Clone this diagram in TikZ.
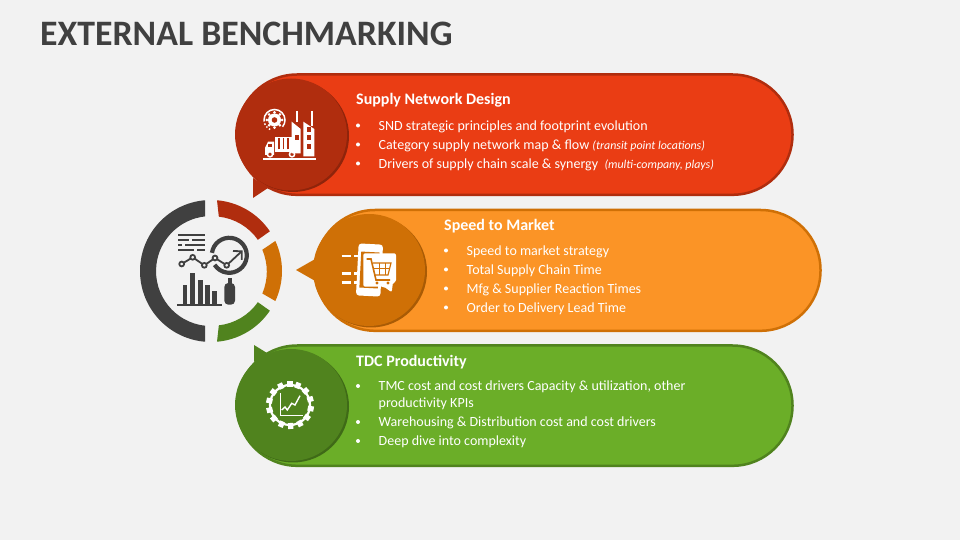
\documentclass[tikz,border=0pt]{standalone}
\usepackage{fontspec}
\setmainfont{Carlito}
\definecolor{paper}{HTML}{F2F2F2}
\definecolor{ink}{HTML}{404040}
\definecolor{redfill}{HTML}{EA3D14}
\definecolor{reddark}{HTML}{B02D0E}
\definecolor{redshade}{HTML}{8F240B}
\definecolor{orangefill}{HTML}{FB9426}
\definecolor{orangedark}{HTML}{CF7006}
\definecolor{orangeshade}{HTML}{A95B05}
\definecolor{greenfill}{HTML}{6BAE28}
\definecolor{greendark}{HTML}{50831E}
\definecolor{greenshade}{HTML}{3F6A17}
\tikzset{
	pill/.style={line width=2.5pt, rounded corners=60pt},
	headtext/.style={anchor=base west, inner sep=0pt, text=white, font=\fontsize{16}{18}\selectfont\bfseries},
	itemtext/.style={anchor=base west, inner sep=0pt, text=white, font=\fontsize{14}{16}\selectfont},
	iconline/.style={white, line width=1.5pt},
	inkline/.style={ink, line width=1.8pt}
}
\newcommand{\smallnote}[1]{{\fontsize{11.9}{13}\selectfont\itshape #1}}
\begin{document}
\begin{tikzpicture}[x=1pt,y=1pt]
	\useasboundingbox (0,0) rectangle (960,540);
	\fill [paper] (0,0) rectangle (960,540);
	\node [anchor=base west, inner sep=0pt, text=ink, font=\fontsize{35.8}{40}\selectfont\bfseries] (title) at (40,494) {EXTERNAL BENCHMARKING};
	% ring
	\fill [ink] (211,269)++(94.85:71) arc (94.85:265.15:71) -- ++(0,16) arc (263.7:96.3:55) -- cycle;
	\fill [reddark] (211,269)++(85.15:71) arc (85.15:34:71) -- ++(-12,-8.5) arc (35:83.7:55) -- cycle;
	\fill [orangedark] (211,269)++(25:71) arc (25:-25:71) -- ++(-13,7.5) arc (-23:23:56) -- cycle;
	\fill [greendark] (211,269)++(-85.15:71) arc (-85.15:-34:71) -- ++(-12,8.5) arc (-35:-83.7:55) -- cycle;
	% middle icon
	\draw [inkline] (178,305)--(205,305);
	\draw [inkline] (178,300)--(189,300) (192,300)--(205,300);
	\draw [inkline] (178,295)--(182,295) (185,295)--(205,295);
	\draw [inkline] (178,290)--(194,290) (197,290)--(205,290);
	\draw [ink, line width=4.2pt] (229.3,284.7)++(172:17.5) arc (172:-147:17.5);
	\draw [inkline] (181.7,276)--(192.7,282.7)--(204.3,274.7)--(215,282)--(226.7,274.7)--(241.7,288.7);
	\draw [inkline] (233,289)--(241.7,288.7)--(241.7,280);
	\foreach \px/\py in {181.7/276, 192.7/282.7, 204.3/274.7, 215/282, 226.7/274.7}
		\draw [inkline, fill=paper] (\px,\py) circle (2.4);
	\fill [ink] (182.7,234.7) rectangle (187.3,254.7);
	\fill [ink] (190,234.7) rectangle (195.3,267);
	\fill [ink] (198,234.7) rectangle (202.7,260.3);
	\fill [ink] (205,234.7) rectangle (210,254.7);
	\fill [ink] (212.3,234.7) rectangle (217,248.7);
	\draw [inkline] (177.3,234.7)--(221.7,234.7);
	\fill [ink, rounded corners=4pt] (224.3,235.3) rectangle (235,257);
	\fill [ink] (227.5,256) rectangle (231.7,262);
	% supply network design
	\draw [pill, draw=reddark, fill=redfill] (237.2,345.2) rectangle (792.5,465.5);
	\fill [redshade] (293,404) circle (56);
	\fill [reddark] (253,342)--(253,362)--(268,352)--cycle;
	\fill [reddark] (291,405.5) circle (56);
	\draw [iconline] (263.3,381)--(316,381);
	\draw [iconline] (264,420) arc (180:-40:10.5);
	\draw [iconline, dash pattern=on 1.5pt off 2pt] (264,420) arc (180:250:10.5);
	\fill [white] (274.5,420) circle (6.5);
	\fill [reddark] (274.5,420) circle (2.8);
	\foreach \ang in {0,45,...,315}
		\fill [white] (274.5,420)++(\ang:7.6) circle (1.5);
	\fill [white] (275,388.3) rectangle (298.3,403.3);
	\foreach \px in {279,283.5,288,292.5}
		\draw [reddark, line width=1.1pt] (\px,390.5)--(\px,401.5);
	\fill [white] (265,385)--(265,392)--(268,398.3)--(274,398.3)--(274,385)--cycle;
	\fill [reddark] (267.5,392.5) rectangle (272,396);
	\draw [iconline, fill=reddark] (270,385.7) circle (2.6);
	\draw [iconline, fill=reddark] (292,385.7) circle (2.6);
	\fill [white] (291.7,386.7)--(291.7,418.3)--(300.7,411)--(300.7,386.7)--cycle;
	\fill [white] (303.3,383.5)--(303.3,418.3)--(314.3,411)--(314.3,383.5)--cycle;
	\draw [white, line width=2pt] (296.7,429)--(296.7,418);
	\draw [white, line width=2pt] (311.7,429)--(311.7,414);
	\fill [reddark] (294.5,400) rectangle (298.5,405);
	\fill [reddark] (306.8,400) rectangle (310.8,405);
	\fill [reddark] (306.8,391) rectangle (310.8,396);
	\fill [reddark] (306.8,408) rectangle (310.8,413);
	\node [headtext] (ndhead) at (356,435.2) {Supply Network Design};
	\fill [white] (358,414.5) circle (2);
	\fill [white] (358,395.5) circle (2);
	\fill [white] (358,376.5) circle (2);
	\node [itemtext] (ndone) at (378.5,409.7) {SND strategic principles and footprint evolution};
	\node [itemtext] (ndtwo) at (378.5,390.2) {Category supply network map \& flow \smallnote{(transit point locations)}};
	\node [itemtext] (ndthree) at (378.5,371.4) {Drivers of supply chain scale \& synergy \ \smallnote{(multi-company, plays)}};
	% speed to market
	\draw [pill, draw=orangedark, fill=orangefill] (315.2,209.2) rectangle (820.5,330);
	\fill [orangeshade] (371,268.5) circle (56);
	\fill [orangedark] (296,270)--(317,282)--(317,258)--cycle;
	\fill [orangedark] (369,270) circle (56);
	\draw [white, line width=2.6pt] (341.7,284)--(351,284) (354,284)--(358,284);
	\draw [white, line width=2.6pt] (341.7,266.7)--(351,266.7) (354,266.7)--(358,266.7);
	\draw [white, line width=2.6pt] (341.7,257.7)--(351,257.7) (354,257.7)--(358,257.7);
	\fill [white, rounded corners=3pt, rotate around={-3:(369,270)}] (357.3,244) rectangle (381.7,296);
	\fill [orangedark, rotate around={-3:(369,270)}] (360.3,252) rectangle (378.7,288);
	\fill [white, rounded corners=2pt] (363.3,253.3)--(363.3,286.7)--(396,286.7)--(396,258)--(393,258)--(391.7,247.7)--(384,253.3)--cycle;
	\draw [orangedark, line width=1.6pt] (366.5,281)--(371,281)--(376,260)--(390,260);
	\draw [orangedark, line width=1.2pt] (373,277)--(391,277)--(388,265)--(374.5,265);
	\draw [orangedark, line width=1pt] (373,271)--(390,271) (379,277)--(379,265) (385,277)--(385,265);
	\fill [orangedark] (377,257) circle (1.7);
	\fill [orangedark] (388,257) circle (1.7);
	\node [headtext] (smhead) at (444,309.7) {Speed to Market};
	\fill [white] (446,289.5) circle (2);
	\fill [white] (446,270.5) circle (2);
	\fill [white] (446,251.5) circle (2);
	\fill [white] (446,232.5) circle (2);
	\node [itemtext] (smone) at (466.5,284.7) {Speed to market strategy};
	\node [itemtext] (smtwo) at (466.5,265.7) {Total Supply Chain Time};
	\node [itemtext] (smthree) at (466.5,246.7) {Mfg \& Supplier Reaction Times};
	\node [itemtext] (smfour) at (466.5,227.7) {Order to Delivery Lead Time};
	% tdc productivity
	\draw [pill, draw=greendark, fill=greenfill] (237.2,74.2) rectangle (792.5,194.5);
	\fill [greenshade] (293,133.5) circle (56);
	\fill [greendark] (254,195)--(267,187)--(254,178)--cycle;
	\fill [greendark] (291,135) circle (56);
	\draw [white, line width=2.2pt] (290,135) circle (20);
	\foreach \ang in {0,26,...,340}
		\fill [white, rotate around={\ang:(290,135)}] (287.4,153) rectangle (292.6,159);
	\draw [white, line width=1pt] (280,146.7)--(280,124.3)--(303.3,124.3);
	\draw [white, line width=1.4pt] (281.7,130)--(285,133)--(287.3,130)--(291.7,136.7)--(295,135)--(300,144.3);
	\node [headtext] (tdchead) at (356,173.2) {TDC Productivity};
	\fill [white] (358,154) circle (2);
	\fill [white] (358,118) circle (2);
	\fill [white] (358,99) circle (2);
	\node [itemtext] (tdcone) at (378.5,149.2) {TMC cost and cost drivers Capacity \& utilization, other};
	\node [itemtext] (tdconeb) at (378.5,132.2) {productivity KPIs};
	\node [itemtext] (tdctwo) at (378.5,113.2) {Warehousing \& Distribution cost and cost drivers};
	\node [itemtext] (tdcthree) at (378.5,94.2) {Deep dive into complexity};
\end{tikzpicture}
\end{document}
